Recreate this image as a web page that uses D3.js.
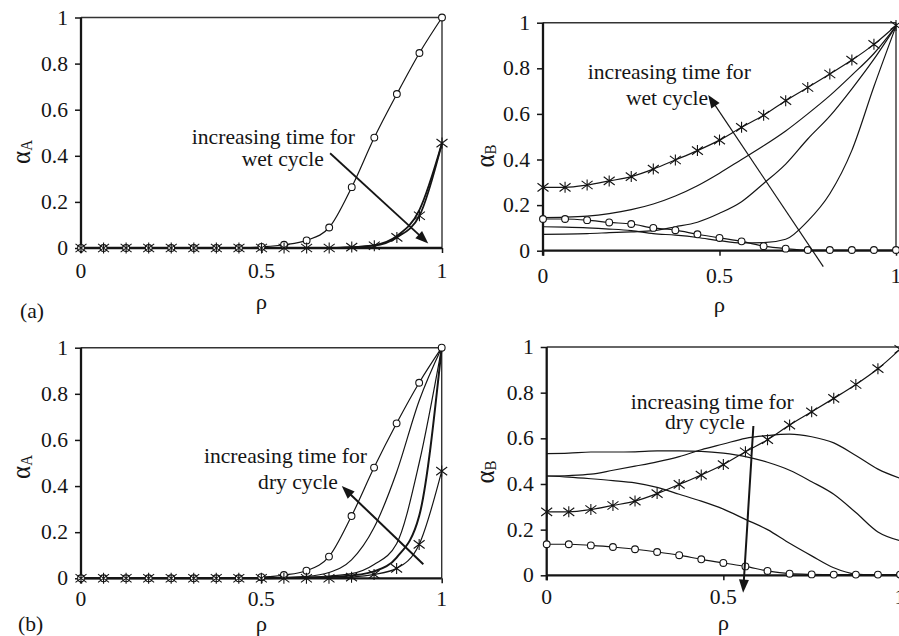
<!DOCTYPE html>
<html><head><meta charset="utf-8">
<script src="https://cdn.jsdelivr.net/npm/d3@7"></script>
<style>body{margin:0;background:#fff} svg{display:block}</style>
</head><body>
<svg id="c" width="899" height="636"></svg>
<script>
// ---- data ----
const rho = [0,0.0625,0.125,0.1875,0.25,0.3125,0.375,0.4375,0.5,0.5625,0.625,0.6875,0.75,0.8125,0.875,0.9375,1];
const yTicks = [0,0.2,0.4,0.6,0.8,1];
const yTickLabels = ["0","0.2","0.4","0.6","0.8","1"];
const xTicks = [0,0.5,1];
const xTickLabels = ["0","0.5","1"];

// (a) alpha_A, wet cycle
const aCircle = [0,0,0,0,0,0,0,0,0.005,0.014,0.033,0.089,0.264,0.479,0.668,0.846,1.0];
const aStar   = [0,0,0,0,0,0,0,0,0,0,0,0,0.004,0.01,0.046,0.14,0.455];
const aWetMid = [0,0,0,0,0,0,0,0,0,0,0,0,0.003,0.012,0.052,0.165,0.455];

// (a) alpha_B, wet cycle
const bStar   = [0.278,0.278,0.288,0.306,0.325,0.358,0.398,0.439,0.485,0.541,0.594,0.658,0.716,0.775,0.836,0.905,0.988];
const bCircle = [0.139,0.139,0.134,0.124,0.117,0.100,0.090,0.072,0.056,0.041,0.020,0.009,0.003,0.003,0.003,0.003,0.003];
const bWet1   = [0.105,0.103,0.100,0.095,0.088,0.075,0.068,0.058,0.044,0.034,0.035,0.05,0.13,0.25,0.44,0.72,0.985];
const bWet2   = [0.072,0.073,0.075,0.079,0.083,0.088,0.105,0.125,0.164,0.215,0.295,0.38,0.49,0.59,0.71,0.84,0.985];
const bWet3   = [0.145,0.147,0.152,0.163,0.18,0.205,0.24,0.285,0.34,0.40,0.46,0.525,0.6,0.68,0.77,0.865,0.985];

// (b) alpha_A, dry cycle
const cCircle = [0,0,0,0,0,0,0,0,0.005,0.014,0.033,0.094,0.27,0.48,0.672,0.848,1.0];
const cStar   = [0,0,0,0,0,0,0,0,0,0,0,0,0.005,0.017,0.043,0.147,0.465];
const cDry1   = [0,0,0,0,0,0,0,0,0.002,0.004,0.008,0.025,0.08,0.22,0.46,0.77,1.0];
const cDry2   = [0,0,0,0,0,0,0,0,0,0.002,0.004,0.01,0.02,0.06,0.15,0.5,1.0];
const cDry3   = [0,0,0,0,0,0,0,0,0,0.001,0.003,0.006,0.012,0.03,0.09,0.27,1.0];

// (b) alpha_B, dry cycle
const dStar   = [0.278,0.278,0.288,0.306,0.325,0.358,0.398,0.439,0.485,0.541,0.594,0.658,0.716,0.775,0.836,0.905,0.99];
const dCircle = [0.136,0.136,0.131,0.124,0.114,0.102,0.088,0.07,0.054,0.039,0.019,0.007,0.004,0.003,0.003,0.003,0.003];
const dDry1   = [0.533,0.535,0.54,0.54,0.541,0.545,0.545,0.543,0.535,0.52,0.495,0.46,0.41,0.355,0.275,0.19,0.152];
const dDry2   = [0.435,0.437,0.443,0.46,0.478,0.497,0.52,0.55,0.575,0.6,0.612,0.618,0.607,0.58,0.525,0.465,0.425];
const dDry3   = [0.435,0.43,0.423,0.415,0.405,0.385,0.355,0.325,0.29,0.245,0.2,0.14,0.085,0.033,0.005,0,0];

const noteWet = ["increasing time for","wet cycle"];
const noteDry = ["increasing time for","dry cycle"];

// ---- layout ----
const FONT = "'Liberation Serif','Times New Roman',serif";
const SX = 1.08; // horizontal stretch of the original figure's text
const FS = 20;
const panels = [
  {l:81,r:442,t:17.5,b:248, sub:"A", tag:"(a)", tagX:20, tagY:318, xlabOff:30, rhoY:309, aX:30, aY:152,
   series:[{v:aWetMid,m:null,w:1.8},{v:aCircle,m:"circle",w:1.2},{v:aStar,m:"star",w:1.8}],
   note:noteWet, notePos:[[0.307,0.451],[0.445,0.356]], arrow:[[0.69,0.411],[0.962,0.02]], aw:1.8},
  {l:543,r:896,t:22.7,b:250.7, sub:"B", xlabOff:32, rhoY:312, aX:494, aY:156,
   series:[{v:bWet1,m:null,w:1.2},{v:bWet2,m:null,w:1.2},{v:bWet3,m:null,w:1.2},{v:bCircle,m:"circle",w:1.2},{v:bStar,m:"star",w:1.2}],
   note:noteWet, notePos:[[0.127,0.753],[0.235,0.639]], arrow:[[0.794,-0.07],[0.468,0.683]], aw:1.2},
  {l:81,r:441.7,t:347.7,b:578.3, sub:"A", tag:"(b)", tagX:18, tagY:631, xlabOff:28, rhoY:631, aX:30, aY:467,
   series:[{v:cDry1,m:null,w:1.2},{v:cDry2,m:null,w:1.2},{v:cDry3,m:null,w:2},{v:cCircle,m:"circle",w:1.2},{v:cStar,m:"star",w:1.2}],
   note:noteDry, notePos:[[0.341,0.499],[0.491,0.386]], arrow:[[0.949,0.061],[0.723,0.40]], aw:2},
  {l:546.7,r:900,t:347,b:575.3, sub:"B", xlabOff:29, rhoY:630, aX:494, aY:472,
   series:[{v:dDry1,m:null,w:1.2},{v:dDry2,m:null,w:1.2},{v:dDry3,m:null,w:1.2},{v:dCircle,m:"circle",w:1.2},{v:dStar,m:"star",w:1.2}],
   note:noteDry, notePos:[[0.238,0.73],[0.335,0.639]], arrow:[[0.585,0.654],[0.556,-0.076]], aw:2}
];

const svg = d3.select("#c");
const INK = "#151515";

function stext(g, x, y, str, size, anchor, rot){
  return g.append("text")
    .attr("transform", `translate(${x},${y}) scale(${SX},1)` + (rot ? " rotate(-90)" : ""))
    .attr("text-anchor", anchor || "start")
    .attr("font-family", FONT).attr("font-size", size).attr("fill", INK)
    .text(str);
}

panels.forEach((p, pi) => {
  const g = svg.append("g");
  const x = d3.scaleLinear().domain([0,1]).range([p.l, p.r]);
  const y = d3.scaleLinear().domain([0,1]).range([p.b, p.t]);

  // frame (top & right) thin
  g.append("line").attr("x1", x(0)).attr("x2", x(1)).attr("y1", y(1)).attr("y2", y(1))
    .attr("stroke", "#333").attr("stroke-width", 1.4);
  g.append("line").attr("x1", x(1)).attr("x2", x(1)).attr("y1", y(0)).attr("y2", y(1))
    .attr("stroke", "#333").attr("stroke-width", 1.4);

  // axes
  const yAx = g.append("g").attr("transform", `translate(${x(0)},0)`)
    .call(d3.axisLeft(y).tickValues(yTicks).tickSize(6).tickFormat(""));
  const xAx = g.append("g").attr("transform", `translate(0,${y(0)})`)
    .call(d3.axisBottom(x).tickValues(xTicks).tickSize(5).tickFormat(""));
  [yAx, xAx].forEach(a => {
    a.select(".domain").attr("stroke", INK).attr("stroke-width", 2.3);
    a.selectAll(".tick line").attr("stroke", INK).attr("stroke-width", 1.5);
  });
  yAx.select(".domain").attr("d", `M0,${y(1)}V${y(0)+5}`);
  xAx.select(".domain").attr("d", `M${x(0)},0H${x(1)}`);

  yTicks.forEach((t, i) => stext(g, x(0) - 13, y(t) + 7, yTickLabels[i], FS, "end"));
  xTicks.forEach((t, i) => stext(g, x(t), y(0) + p.xlabOff, xTickLabels[i], FS, "middle"));

  // axis titles
  stext(g, x(0.5), p.rhoY, "ρ", 21, "middle");
  const at = g.append("text")
    .attr("transform", `translate(${p.aX},${p.aY}) scale(${SX},1) rotate(-90)`)
    .attr("text-anchor", "middle").attr("font-family", FONT).attr("fill", INK);
  at.append("tspan").attr("font-size", 25).text("α");
  at.append("tspan").attr("font-size", 15).attr("dy", 2).text(p.sub);

  if (p.tag) stext(g, p.tagX, p.tagY, p.tag, FS, "start");

  // clip
  const cid = "clip" + pi;
  g.append("clipPath").attr("id", cid).append("rect")
    .attr("x", x(0) - 8).attr("y", y(1) - 8).attr("width", x(1) - x(0) + 16).attr("height", y(0) - y(1) + 16);
  const pg = g.append("g").attr("clip-path", `url(#${cid})`);

  const line = d3.line().x((d, i) => x(rho[i])).y(d => y(d)).curve(d3.curveMonotoneX);
  p.series.forEach(s => {
    pg.append("path").attr("d", line(s.v)).attr("fill", "none")
      .attr("stroke", INK).attr("stroke-width", s.w).attr("stroke-linejoin", "round");
  });
  p.series.forEach(s => {
    if (s.m === "circle") {
      pg.selectAll(null).data(s.v).join("circle")
        .attr("cx", (d, i) => x(rho[i])).attr("cy", d => y(d)).attr("r", 3.4)
        .attr("fill", "#fff").attr("stroke", INK).attr("stroke-width", 1.1);
    } else if (s.m === "star") {
      pg.selectAll(null).data(s.v).join("path")
        .attr("d", (d, i) => {
          const cx = x(rho[i]), cy = y(d), r = 5.5, rv = 5.5;
          return `M${cx-r},${cy-r*0.75}L${cx+r},${cy+r*0.75}M${cx-r},${cy+r*0.75}L${cx+r},${cy-r*0.75}M${cx},${cy-rv}L${cx},${cy+rv}`;
        })
        .attr("stroke", INK).attr("stroke-width", 1.1).attr("fill", "none");
    }
  });

  // annotation text
  p.note.forEach((t, i) => stext(g, x(p.notePos[i][0]), y(p.notePos[i][1]), t, FS, "start"));

  // arrow
  const [a0, a1] = p.arrow;
  const x0 = x(a0[0]), y0 = y(a0[1]), x1 = x(a1[0]), y1 = y(a1[1]);
  const L = Math.hypot(x1 - x0, y1 - y0), ux = (x1 - x0) / L, uy = (y1 - y0) / L;
  const hl = 13, hw = 5;
  const bx = x1 - ux * hl, by = y1 - uy * hl;
  g.append("line").attr("x1", x0).attr("y1", y0).attr("x2", bx + ux * 2).attr("y2", by + uy * 2)
    .attr("stroke", INK).attr("stroke-width", p.aw);
  g.append("path")
    .attr("d", `M${x1},${y1}L${bx - uy * hw},${by + ux * hw}L${bx + uy * hw},${by - ux * hw}Z`)
    .attr("fill", INK);
});
</script>
</body></html>
